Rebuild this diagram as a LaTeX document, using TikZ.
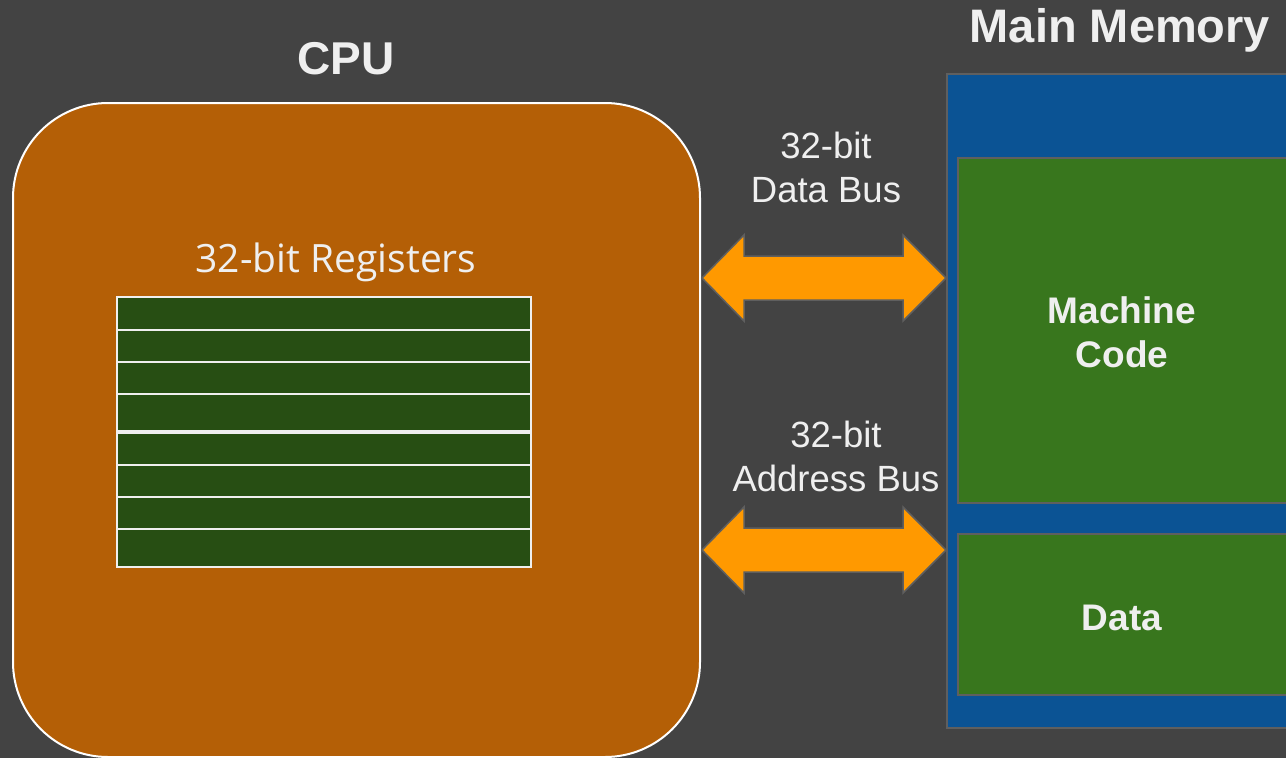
\documentclass[tikz,border=0pt]{standalone}
\usepackage{fontspec}
\setmainfont{Liberation Sans}
\newfontfamily\regfont{Open Sans}
\definecolor{bg}{HTML}{434343}
\definecolor{cpufill}{HTML}{B45F06}
\definecolor{memblue}{HTML}{0B5394}
\definecolor{memgreen}{HTML}{38761D}
\definecolor{reggreen}{HTML}{274E13}
\definecolor{busorange}{HTML}{FF9900}
\definecolor{edgegray}{HTML}{5F5F5F}
\definecolor{txt}{HTML}{EFEFEF}
\tikzset{
  lbl/.style={text=txt, inner sep=0pt, anchor=base},
  boldlbl/.style={lbl, font=\fontsize{46}{50}\selectfont\bfseries},
  buslbl/.style={lbl, font=\fontsize{36.5}{42}\selectfont},
  memlbl/.style={lbl, font=\fontsize{37}{42}\selectfont\bfseries},
  regrow/.style={fill=reggreen, draw=txt, line width=1.3pt},
  membox/.style={draw=edgegray, line width=1.5pt},
  busarrow/.style={fill=busorange, draw=edgegray, line width=1.5pt, line join=miter},
}
\begin{document}
\begin{tikzpicture}[x=1pt, y=-1pt]
\fill[bg] (0,0) rectangle (1286,758);
\useasboundingbox (0,0) rectangle (1286,758);
\clip (0,0) rectangle (1286,758);

% CPU
\draw[fill=cpufill, draw=white, line width=2pt, rounded corners=95pt] (13,103) rectangle (700,757);
\node[boldlbl] (cpulabel) at (346,74) {CPU};
\node[lbl, font=\regfont\fontsize{39}{44}\selectfont] (reglabel) at (336,272) {32-bit Registers};

% registers
\foreach \a/\b in {297/330,330/362,362/394,394/431,433/465,465/497,497/529,529/567}{
  \draw[regrow] (117,\a) rectangle (531,\b);
}

% Main memory
\node[boldlbl, font=\fontsize{47}{50}\selectfont\bfseries] (memlabel) at (1120,42) {Main Memory};
\draw[membox, fill=memblue] (947,74) rectangle (1300,728);
\draw[membox, fill=memgreen] (958,158) rectangle (1300,503);
\draw[membox, fill=memgreen] (958,534) rectangle (1300,695);
\node[memlbl] (code1) at (1122,323) {Machine};
\node[memlbl] (code2) at (1122,367) {Code};
\node[memlbl] (data) at (1122,630) {Data};

% buses
\foreach \y in {278,550}{
  \draw[busarrow] (702,\y) -- (744,\y-43) -- (744,\y-22) -- (903,\y-22) -- (903,\y-43)
    -- (946,\y) -- (903,\y+43) -- (903,\y+22) -- (744,\y+22) -- (744,\y+43) -- cycle;
}
\node[buslbl] (db1) at (826,158) {32-bit};
\node[buslbl] (db2) at (826,202) {Data Bus};
\node[buslbl] (ab1) at (836,447) {32-bit};
\node[buslbl] (ab2) at (836,491) {Address Bus};
\end{tikzpicture}
\end{document}
